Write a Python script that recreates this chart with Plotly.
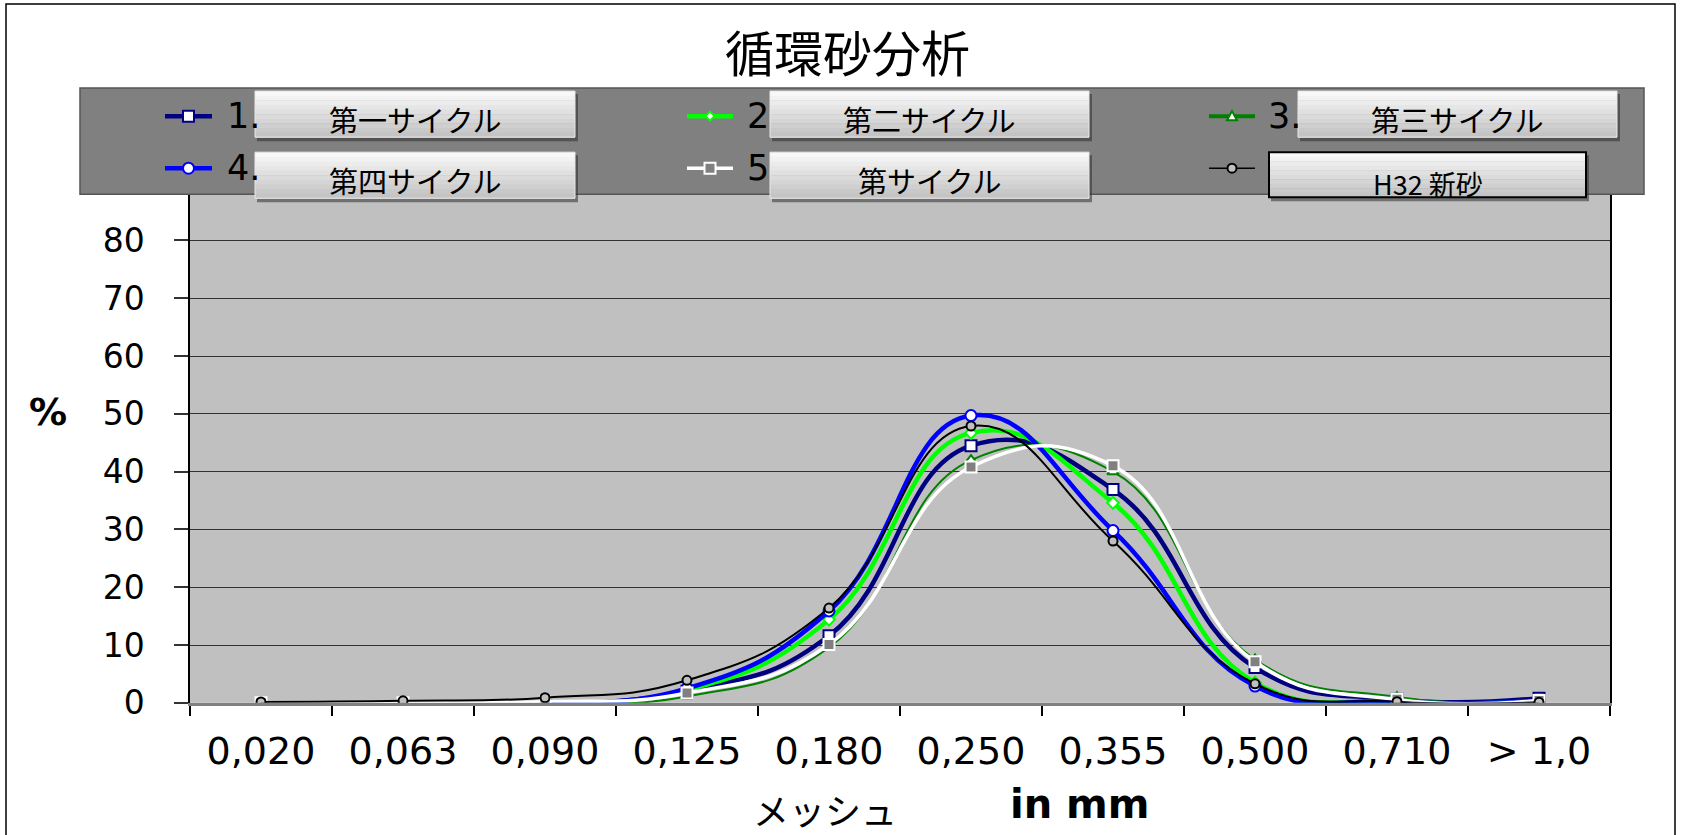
import plotly.graph_objects as go

W = 1685
REF_H = 835          # coordinate space used for placement
H = 856              # figure height (renderer compresses vertically by ~0.975)

categories = ["0,020", "0,063", "0,090", "0,125", "0,180", "0,250", "0,355", "0,500", "0,710", "> 1,0"]
cycle1 = [None, None, 0.1, 2.0, 11.6, 44.5, 36.9, 6.1, 0.6, 0.8]
cycle2 = [None, None, 0.1, 2.2, 14.4, 46.7, 34.6, 3.5, 0.2, 0.3]
cycle3 = [None, None, 0.1, 1.1, 9.6, 42.0, 40.0, 7.5, 1.0, 0.2]
cycle4 = [None, None, 0.1, 2.5, 15.9, 49.7, 29.8, 2.9, 0.2, 0.3]
cycle5 = [0.0, 0.0, 0.2, 1.7, 10.1, 40.8, 41.0, 7.1, 0.6, 0.4]
new_sand = [0.15, 0.35, 0.9, 3.9, 16.4, 47.9, 28.0, 3.3, 0.2, 0.1]
y_ticks = [0, 10, 20, 30, 40, 50, 60, 70, 80]

title_text = "循環砂分析"
legend_labels = ["第一サイクル", "第二サイクル", "第三サイクル", "第四サイクル", "第サイクル", "H32 新砂"]
legend_nums = ["1.", "2", "3.", "4.", "5", ""]

series = [
    dict(y=cycle1, color="#000080", width=4.5, symbol="square", size=11, fill="white", lc="#000080"),
    dict(y=cycle2, color="#00FF00", width=4.5, symbol="diamond", size=9, fill="white", lc="#00FF00"),
    dict(y=cycle3, color="#008000", width=2, symbol="triangle-up", size=10, fill="white", lc="#008000"),
    dict(y=cycle4, color="#0000FF", width=4.5, symbol="circle", size=11, fill="white", lc="#0000FF"),
    dict(y=cycle5, color="#FFFFFF", width=3.5, symbol="square", size=11, fill="#808080", lc="#FFFFFF"),
    dict(y=new_sand, color="#000000", width=2, symbol="circle", size=9, fill="#C0C0C0", lc="#000000"),
]

fig = go.Figure()
for s, name in zip(series, legend_labels):
    fig.add_trace(go.Scatter(
        x=categories, y=s["y"], name=name, mode="lines+markers",
        line=dict(color=s["color"], width=s["width"], shape="spline", smoothing=1.3),
        marker=dict(symbol=s["symbol"], size=s["size"], color=s["fill"],
                    line=dict(color=s["lc"], width=2)),
        connectgaps=False,
    ))


def px(x):
    return x / W


def py(y):
    return 1 - y / REF_H


shapes = []
annotations = []

# outer border
shapes.append(dict(type="rect", xref="paper", yref="paper", x0=px(6), x1=px(1675), y0=py(850), y1=py(4),
                   line=dict(color="black", width=1.5), fillcolor="rgba(0,0,0,0)", layer="below"))
# legend box
shapes.append(dict(type="rect", xref="paper", yref="paper", x0=px(80), x1=px(1644), y0=py(194), y1=py(88),
                   line=dict(color="#555555", width=1.5), fillcolor="#808080", layer="above"))

# legend symbols
cols = [(165, 212, 225), (687, 733, 745), (1209, 1255, 1266)]
rows = [116, 168]
for i, s in enumerate(series):
    r, c = divmod(i, 3)
    x0, x1, xt = cols[c]
    yy = rows[r]
    lw = s["width"] if s["width"] > 2.5 else (4 if s["color"] == "#008000" else 1.5)
    shapes.append(dict(type="line", xref="paper", yref="paper", x0=px(x0), x1=px(x1), y0=py(yy), y1=py(yy),
                       line=dict(color=s["color"], width=lw), layer="above"))
    cx = (x0 + x1) / 2
    hs = s["size"] / 2
    mk = dict(xref="paper", yref="paper", fillcolor=s["fill"], line=dict(color=s["lc"], width=2), layer="above")
    if s["symbol"] == "square":
        shapes.append(dict(type="rect", x0=px(cx - hs), x1=px(cx + hs), y0=py(yy + hs), y1=py(yy - hs), **mk))
    elif s["symbol"] == "circle":
        shapes.append(dict(type="circle", x0=px(cx - hs), x1=px(cx + hs), y0=py(yy + hs), y1=py(yy - hs), **mk))
    elif s["symbol"] == "diamond":
        path = f"M {px(cx)} {py(yy - hs)} L {px(cx + hs)} {py(yy)} L {px(cx)} {py(yy + hs)} L {px(cx - hs)} {py(yy)} Z"
        shapes.append(dict(type="path", path=path, **mk))
    else:
        path = f"M {px(cx)} {py(yy - hs)} L {px(cx + hs)} {py(yy + hs * 0.8)} L {px(cx - hs)} {py(yy + hs * 0.8)} Z"
        shapes.append(dict(type="path", path=path, **mk))
    if legend_nums[i]:
        annotations.append(dict(xref="paper", yref="paper", x=px(xt), y=py(yy), xanchor="left", yanchor="middle",
                                text=legend_nums[i], showarrow=False,
                                font=dict(family="DejaVu Sans", size=35, color="black")))

# buttons
buttons = [
    (255, 575, 91, 137), (770, 1089, 91, 137), (1298, 1617, 91, 137),
    (255, 575, 152, 198), (770, 1089, 152, 198), (1269, 1586, 152, 197),
]
for i, (bx0, bx1, by0, by1) in enumerate(buttons):
    shapes.append(dict(type="rect", xref="paper", yref="paper", x0=px(bx0 + 2), x1=px(bx1 + 3),
                       y0=py(by1 + 4), y1=py(by0 + 3), fillcolor="rgba(45,45,45,0.55)",
                       line=dict(width=0), layer="above"))
    n = 10
    for k in range(n):
        t = k / (n - 1)
        cval = int(248 - (248 - 196) * t)
        ya = by0 + (by1 - by0) * k / n
        yb = by0 + (by1 - by0) * (k + 1) / n
        shapes.append(dict(type="rect", xref="paper", yref="paper", x0=px(bx0), x1=px(bx1),
                           y0=py(yb + 0.5), y1=py(ya), fillcolor=f"rgb({cval},{cval},{cval})",
                           line=dict(width=0), layer="above"))
    border = dict(color="black", width=2) if i == 5 else dict(color="#E8E8E8", width=1)
    shapes.append(dict(type="rect", xref="paper", yref="paper", x0=px(bx0), x1=px(bx1), y0=py(by1), y1=py(by0),
                       fillcolor="rgba(0,0,0,0)", line=border, layer="above"))
    ty = (by0 + by1) / 2 + (5 if i < 5 else 9)
    annotations.append(dict(xref="paper", yref="paper", x=px((bx0 + bx1) / 2), y=py(ty),
                            xanchor="center", yanchor="middle", text=legend_labels[i], showarrow=False,
                            font=dict(family="Noto Sans CJK JP", size=29 if i < 5 else 27, color="black")))

# title and axis titles
annotations.append(dict(xref="paper", yref="paper", x=px(847), y=py(50), xanchor="center", yanchor="middle",
                        text=title_text, showarrow=False,
                        font=dict(family="Noto Sans CJK JP", size=49, color="black")))
annotations.append(dict(xref="paper", yref="paper", x=px(48), y=py(412), xanchor="center", yanchor="middle",
                        text="<b>%</b>", showarrow=False,
                        font=dict(family="DejaVu Sans", size=38, color="black")))
annotations.append(dict(xref="paper", yref="paper", x=px(825), y=py(808), xanchor="center", yanchor="middle",
                        text="メッシュ", showarrow=False,
                        font=dict(family="Noto Sans CJK JP", size=36, color="black")))
annotations.append(dict(xref="paper", yref="paper", x=px(1079), y=py(803), xanchor="center", yanchor="middle",
                        text="<b>in mm</b>", showarrow=False,
                        font=dict(family="DejaVu Sans", size=40, color="black")))

fig.update_layout(
    width=W, height=H,
    margin=dict(l=0, r=0, t=0, b=0),
    paper_bgcolor="white",
    plot_bgcolor="#C0C0C0",
    showlegend=False,
    shapes=shapes,
    annotations=annotations,
    xaxis=dict(
        domain=[px(190), px(1610)],
        type="category", categoryorder="array", categoryarray=categories,
        range=[-0.5, len(categories) - 0.5],
        tickson="boundaries", ticks="outside", ticklen=10, tickwidth=1.5, tickcolor="black",
        showline=True, linecolor="#808080", linewidth=3,
        showgrid=False, zeroline=False,
        tickfont=dict(family="DejaVu Sans", size=38, color="black"),
        ticklabelstandoff=13,
    ),
    yaxis=dict(
        domain=[py(702), py(194)],
        range=[0, 88],
        tickvals=y_ticks, ticktext=[str(v) for v in y_ticks],
        ticks="outside", ticklen=14, tickwidth=1.5, tickcolor="#333333",
        showline=True, linecolor="black", linewidth=1.5, mirror=True,
        showgrid=True, gridcolor="#333333", gridwidth=1.2, zeroline=False,
        tickfont=dict(family="DejaVu Sans", size=33, color="black"),
        ticklabelstandoff=23,
    ),
)

fig.write_html("out.html")
